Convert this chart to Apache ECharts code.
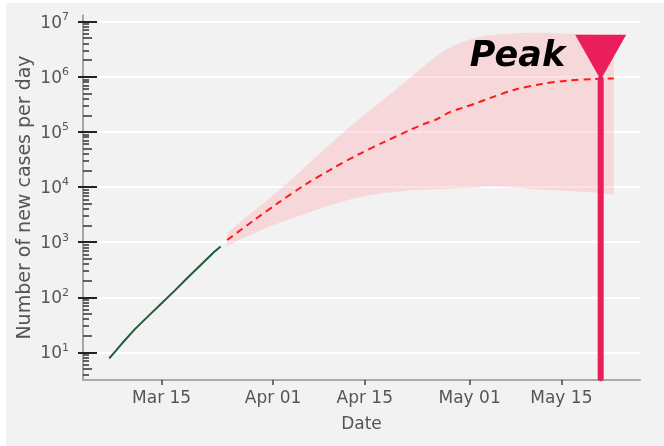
<!DOCTYPE html>
<html>
<head>
<meta charset="utf-8">
<script src="https://cdn.jsdelivr.net/npm/echarts@6/dist/echarts.min.js"></script>
<style>
  html, body { margin: 0; padding: 0; background: #ffffff; }
  #chart { width: 664px; height: 446px; }
</style>
</head>
<body>
<div id="chart"></div>
<script>
// observed new cases per day
var obsDates  = ['2020-03-07', '2020-03-08', '2020-03-09', '2020-03-11', '2020-03-13', '2020-03-15',
                 '2020-03-17', '2020-03-19', '2020-03-21', '2020-03-23', '2020-03-24'];
var obsValues = [7.8, 10.7, 14.8, 27, 46, 78, 132, 229, 389, 661, 832];

// forecast: median and band
var fcDates = ['2020-03-25', '2020-03-29', '2020-04-02', '2020-04-06', '2020-04-10', '2020-04-14',
               '2020-04-18', '2020-04-22', '2020-04-24', '2020-04-26', '2020-04-28', '2020-04-30',
               '2020-05-02', '2020-05-04', '2020-05-08', '2020-05-12', '2020-05-16', '2020-05-20',
               '2020-05-23'];
var fcMid   = [1096, 2455, 5370, 11220, 21380, 38900, 66070, 109600, 138000, 169800, 229100,
               275400, 331100, 407400, 588800, 741300, 851100, 912000, 933300];
var fcUpper = [1479, 3630, 8913, 23710, 64570, 166000, 398100, 977200, 1549000, 2400000,
               3400000, 4300000, 5100000, 5623000, 6166000, 6310000, 6026000, 5888000, 5754000];
var fcLower = [851, 1445, 2239, 3311, 4786, 6457, 7762, 8710, 8913, 9120, 9333, 9550, 9772,
               10230, 9772, 8913, 8511, 7943, 7244];

// peak marker
var peakDate = '2020-05-21';
var peakValue = 900000;
var peakStemBase = 3.4;

// axes
var xMin = '2020-03-03', xMax = '2020-05-27';
var xTicks = ['2020-03-15', '2020-04-01', '2020-04-15', '2020-05-01', '2020-05-15'];
var yMin = 3.16, yMax = 13200000;
var yMajor = [10, 100, 1000, 10000, 100000, 1000000, 10000000];
var yMinorLong = [5, 20, 50, 200, 500, 2000, 5000, 20000, 50000, 200000, 500000, 2000000, 5000000];
var yMinorShort = [4, 6, 7, 8, 9];
[10, 100, 1000, 10000, 100000, 1000000].forEach(function (p) {
    [3, 4, 6, 7, 8, 9].forEach(function (m) { yMinorShort.push(m * p); });
});

var months = ['Jan', 'Feb', 'Mar', 'Apr', 'May', 'Jun', 'Jul', 'Aug', 'Sep', 'Oct', 'Nov', 'Dec'];
var FONT = 'DejaVu Sans';
var TXT = '#555555';

function ts(s) { return Date.parse(s + 'T00:00:00Z'); }
function pairs(xs, ys) {
    return xs.map(function (x, i) { return [ts(x), ys[i]]; });
}

function minorAxis(values, len) {
    return {
        type: 'log', min: yMin, max: yMax, position: 'left',
        axisLine: { show: false },
        axisLabel: { show: false },
        splitLine: { show: false },
        axisTick: { show: true, inside: true, length: len, customValues: values,
                    lineStyle: { color: '#333', width: 1.5 } }
    };
}

// catmull-rom smoothing of pixel points (drawing only)
function smoothPts(pts) {
    var out = [], n = pts.length;
    for (var i = 0; i < n - 1; i++) {
        var p0 = pts[Math.max(i - 1, 0)], p1 = pts[i], p2 = pts[i + 1], p3 = pts[Math.min(i + 2, n - 1)];
        var c1 = [p1[0] + (p2[0] - p0[0]) / 6, p1[1] + (p2[1] - p0[1]) / 6];
        var c2 = [p2[0] - (p3[0] - p1[0]) / 6, p2[1] - (p3[1] - p1[1]) / 6];
        for (var k = 0; k < 8; k++) {
            var t = k / 8, u = 1 - t;
            out.push([
                u * u * u * p1[0] + 3 * u * u * t * c1[0] + 3 * u * t * t * c2[0] + t * t * t * p2[0],
                u * u * u * p1[1] + 3 * u * u * t * c1[1] + 3 * u * t * t * c2[1] + t * t * t * p2[1]
            ]);
        }
    }
    out.push(pts[n - 1]);
    return out;
}

// uncertainty band as one polygon: upper edge forward, lower edge back
function renderBand(params, api) {
    if (params.dataIndex !== 0) return;
    var up = [], lo = [];
    for (var i = 0; i < fcDates.length; i++) {
        up.push(api.coord([ts(fcDates[i]), fcUpper[i]]));
        lo.push(api.coord([ts(fcDates[i]), fcLower[i]]));
    }
    var pts = smoothPts(up).concat(smoothPts(lo).reverse());
    return {
        type: 'polygon',
        shape: { points: pts },
        style: { fill: 'rgba(255,160,170,0.33)' }
    };
}

var chart = echarts.init(document.getElementById('chart'));

var option = {
    backgroundColor: 'transparent',
    animation: false,
    graphic: [{
        type: 'rect', z: -10, silent: true,
        shape: { x: 6, y: 3, width: 664, height: 446 },
        style: { fill: '#f2f2f2' }
    }],
    grid: { left: 83, right: 24, top: 15, bottom: 66 },
    xAxis: {
        type: 'value',
        min: ts(xMin), max: ts(xMax),
        name: 'Date',
        nameLocation: 'middle',
        nameGap: 36,
        nameTextStyle: { fontFamily: FONT, fontSize: 17, color: TXT },
        axisLine: { show: true, lineStyle: { color: '#aaaaaa', width: 2 } },
        axisTick: { show: true, length: 5, customValues: xTicks.map(ts), lineStyle: { color: '#444', width: 1.5 } },
        axisLabel: {
            customValues: xTicks.map(ts),
            fontFamily: FONT, fontSize: 17, color: TXT, margin: 10,
            formatter: function (v) {
                var d = new Date(v);
                var day = d.getUTCDate();
                return months[d.getUTCMonth()] + ' ' + (day < 10 ? '0' + day : day);
            }
        },
        splitLine: { show: false }
    },
    yAxis: [{
        type: 'log', min: yMin, max: yMax, position: 'left',
        name: 'Number of new cases per day',
        nameLocation: 'middle',
        nameGap: 48,
        nameMoveOverlap: false,
        nameTextStyle: { fontFamily: FONT, fontSize: 19, color: TXT },
        axisLine: { show: true, lineStyle: { color: '#8c8c8c', width: 1.5 } },
        axisTick: { show: true, inside: true, length: 14, customValues: yMajor,
                    lineStyle: { color: '#222', width: 2 } },
        axisLabel: {
            customValues: yMajor,
            margin: 14,
            formatter: function (v) {
                return '{b|10}{e|' + Math.round(Math.log10(v)) + '}';
            },
            rich: {
                b: { fontFamily: FONT, fontSize: 17, color: TXT, lineHeight: 20, verticalAlign: 'bottom' },
                e: { fontFamily: FONT, fontSize: 11, color: TXT, lineHeight: 12, verticalAlign: 'top',
                     padding: [0, 0, 14, 0] }
            }
        },
        splitLine: { show: true, lineStyle: { color: '#ffffff', width: 2 } }
    }, {
        type: 'log', min: yMin, max: yMax, position: 'left',
        axisLine: { show: false }, axisLabel: { show: false }, splitLine: { show: false },
        axisTick: { show: true, inside: false, length: 5, customValues: yMajor,
                    lineStyle: { color: '#222', width: 2 } }
    },
        minorAxis(yMinorLong, 9),
        minorAxis(yMinorShort, 6)
    ],
    series: [{
        name: 'band',
        type: 'custom',
        renderItem: renderBand,
        data: pairs(fcDates, fcMid),
        encode: { x: 0, y: 1 },
        z: 1
    }, {
        name: 'observed',
        type: 'line',
        data: pairs(obsDates, obsValues),
        showSymbol: false,
        lineStyle: { color: '#1f5c3a', width: 2 },
        z: 5
    }, {
        name: 'forecast',
        type: 'line',
        data: pairs(fcDates, fcMid),
        showSymbol: false,
        smooth: 0.3,
        lineStyle: { color: '#ff1a1a', width: 2, type: [7, 5] },
        z: 4
    }, {
        name: 'peakStem',
        type: 'line',
        data: [[ts(peakDate), peakStemBase], [ts(peakDate), peakValue]],
        showSymbol: false,
        lineStyle: { color: '#e91e5a', width: 6, cap: 'round' },
        z: 6
    }, {
        name: 'peak',
        type: 'scatter',
        data: [[ts(peakDate), peakValue]],
        symbol: 'triangle',
        symbolRotate: 180,
        symbolSize: [51, 45],
        symbolOffset: [0, -22],
        itemStyle: { color: '#e91e5a', opacity: 1 },
        label: {
            show: true, position: 'left', distance: 10,
            formatter: 'Peak',
            fontFamily: FONT, fontSize: 35, fontWeight: 'bold', fontStyle: 'italic', color: '#000'
        },
        z: 7
    }]
};

chart.setOption(option);
</script>
</body>
</html>
